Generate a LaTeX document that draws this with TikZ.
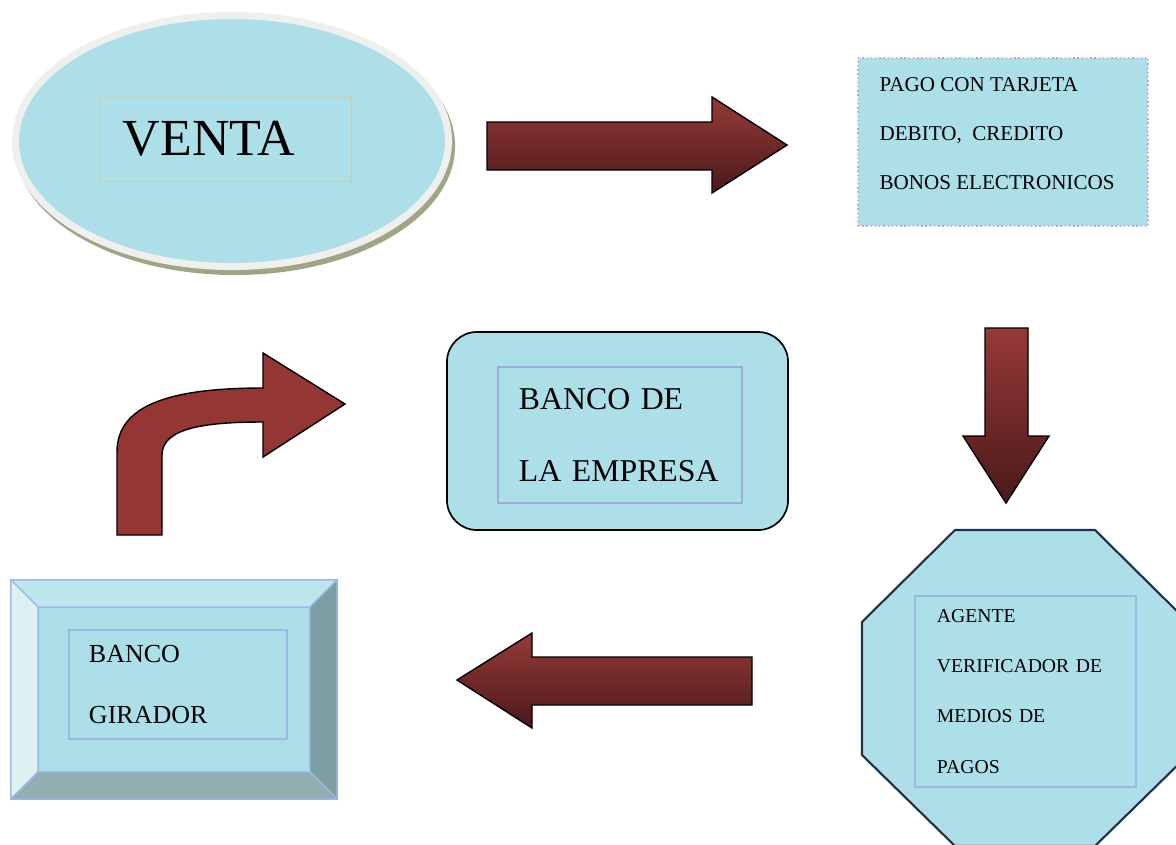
\documentclass[tikz,border=0pt]{standalone}
\usepackage{fontspec}
\setmainfont{Liberation Serif}
\usetikzlibrary{shapes.geometric}
\definecolor{agua}     {HTML}{ACDFE8}
\definecolor{rimgray}  {HTML}{EFEFEF}
\definecolor{olivesh}  {HTML}{A0A584}
\definecolor{olivebox} {HTML}{C8CDAE}
\definecolor{lila}     {HTML}{C6A0D6}
\definecolor{lavanda}  {HTML}{A3ABD9}
\definecolor{marco}    {HTML}{9DB8E8}
\definecolor{navy}     {HTML}{1F3048}
\definecolor{flecha}   {HTML}{943634}
\definecolor{flechatop}{HTML}{963A38}
\definecolor{flechabot}{HTML}{4A1919}
\definecolor{caraizq}  {HTML}{DDF1F3}
\definecolor{carasup}  {HTML}{BDE6EC}
\definecolor{carader}  {HTML}{7C9FA4}
\definecolor{carainf}  {HTML}{93AEB0}

\begin{document}
\begin{tikzpicture}[x=0.025cm,y=-0.025cm,
    cajatxt/.style={align=left,inner ysep=0pt,line width=0.8pt},
    bloque/.style={draw=black,line width=1pt,top color=flechatop,bottom color=flechabot}]
  \path[use as bounding box,fill=white] (0,0) rectangle (1176,844);
  % venta
  \fill[olivesh] (235,146) ellipse [x radius=5.5cm,y radius=3.225cm];
  \node[ellipse,draw=rimgray,line width=0.175cm,fill=agua,inner sep=0pt,
        minimum width=10.825cm,minimum height=6.275cm] (venta) at (232,141) {};
  \node[cajatxt,draw=olivebox,line width=0.5pt,text width=5.125cm,inner xsep=0.575cm,
        minimum height=2.1cm,font=\fontsize{37}{44}\selectfont] (ventatxt) at (225.5,139) {VENTA};
  % pago
  \node[draw=lila,dotted,line width=1pt,fill=agua,
        minimum width=7.25cm,minimum height=4.2cm] (pago) at (1003,142) {};
  \node[cajatxt,anchor=north west,inner sep=0pt,font=\fontsize{15}{34.9}\selectfont]
        (pagotxt) at (879,77) {PAGO CON TARJETA\\DEBITO,~ CREDITO\\BONOS ELECTRONICOS};
  % banco de la empresa
  \node[draw=black,line width=1.2pt,fill=agua,rounded corners=0.75cm,
        minimum width=8.525cm,minimum height=4.95cm] (empresa) at (617.5,431) {};
  \node[cajatxt,draw=lavanda,text width=5.05cm,inner xsep=0.525cm,minimum height=3.4cm,
        font=\fontsize{22.6}{51.2}\selectfont] (empresatxt) at (620,435) {BANCO~DE\\LA~EMPRESA};
  % banco girador
  \node[draw=marco,line width=0.8pt,fill=agua,outer sep=0pt,
        minimum width=8.15cm,minimum height=5.475cm] (girador) at (174,689.5) {};
  \node[draw=marco,line width=0.8pt,fill=agua,outer sep=0pt,
        minimum width=6.8cm,minimum height=4.125cm] (giradorcara) at (174,689.5) {};
  \filldraw[fill=carasup,draw=marco,line width=0.8pt] (girador.north west) -- (girador.north east)
    -- (giradorcara.north east) -- (giradorcara.north west) -- cycle;
  \filldraw[fill=caraizq,draw=marco,line width=0.8pt] (girador.north west) -- (giradorcara.north west)
    -- (giradorcara.south west) -- (girador.south west) -- cycle;
  \filldraw[fill=carader,draw=marco,line width=0.8pt] (girador.north east) -- (giradorcara.north east)
    -- (giradorcara.south east) -- (girador.south east) -- cycle;
  \filldraw[fill=carainf,draw=marco,line width=0.8pt] (girador.south west) -- (giradorcara.south west)
    -- (giradorcara.south east) -- (girador.south east) -- cycle;
  \node[cajatxt,draw=marco,text width=4.45cm,inner xsep=0.5cm,minimum height=2.725cm,
        font=\fontsize{18.5}{42.7}\selectfont] (giradortxt) at (178,684.5) {BANCO\\GIRADOR};
  % agente verificador
  \filldraw[fill=agua,draw=navy,line width=1.5pt] (955,530) -- (1095,530) -- (1188,622) -- (1188,755)
    -- (1095,846) -- (955,846) -- (862,755) -- (862,622) -- cycle;
  \node[cajatxt,draw=marco,text width=4.425cm,inner xsep=0.55cm,minimum height=4.775cm,
        font=\fontsize{14}{35.6}\selectfont] (agentetxt) at (1025.5,691.5)
        {AGENTE\\VERIFICADOR~DE\\MEDIOS~DE\\PAGOS};
  % flechas
  \draw[bloque] (487,122) -- (712,122) -- (712,97) -- (787,145) -- (712,193) -- (712,170)
    -- (487,170) -- cycle;
  \draw[bloque] (985,328) -- (1028,328) -- (1028,436) -- (1049,436) -- (1006,503) -- (963,436)
    -- (985,436) -- cycle;
  \draw[bloque] (752,657) -- (532,657) -- (532,633) -- (457,680) -- (532,728) -- (532,705)
    -- (752,705) -- cycle;
  \draw[draw=black,line width=1pt,fill=flecha] (117,535) -- (117,452)
    .. controls (117,405) and (170,388) .. (263,388) -- (263,353) -- (345,404) -- (263,457)
    -- (263,422) .. controls (205,422) and (162,428) .. (162,455) -- (162,535) -- cycle;
\end{tikzpicture}
\end{document}
